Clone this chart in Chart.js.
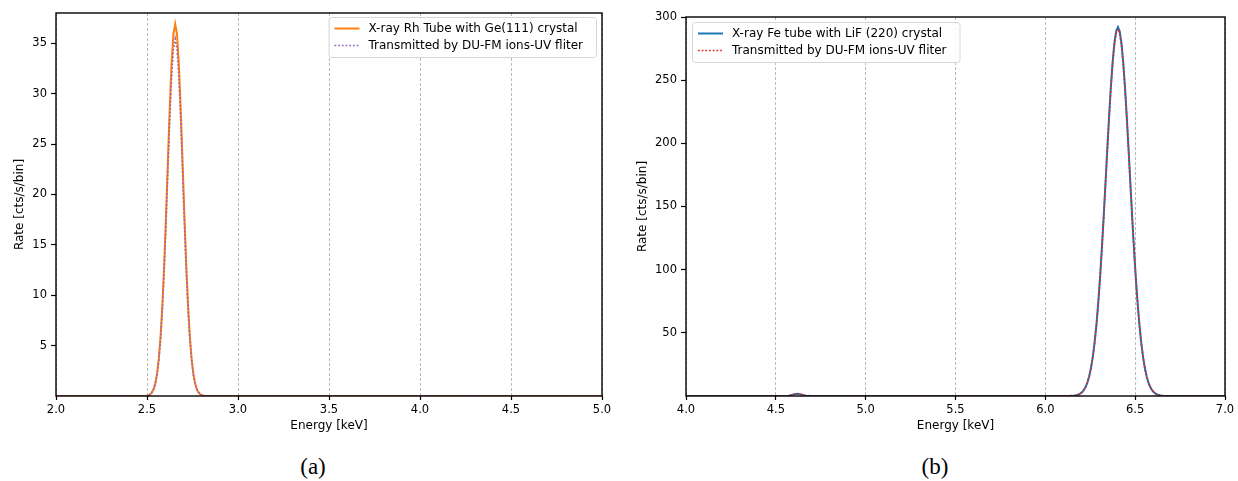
<!DOCTYPE html>
<html>
<head>
<meta charset="utf-8">
<script src="https://cdn.jsdelivr.net/npm/chart.js@4.4.1/dist/chart.umd.min.js"></script>
<style>
  html, body { margin: 0; padding: 0; background: #ffffff; }
  #wrap { position: relative; width: 1238px; height: 481px; overflow: hidden; }
  .panel { position: absolute; top: 0; }
  .caption {
    position: absolute; top: 452px; width: 60px; text-align: center;
    font-family: "Liberation Serif", "DejaVu Serif", serif; font-size: 23px; color: #000;
    line-height: 30px;
  }
</style>
</head>
<body>
<div id="wrap">
  <div class="panel" style="left:0px;"><canvas id="chartA" width="620" height="440"></canvas></div>
  <div class="panel" style="left:620px;"><canvas id="chartB" width="618" height="440"></canvas></div>
  <div class="caption" style="left:283px;">(a)</div>
  <div class="caption" style="left:905px;">(b)</div>
</div>
<script>
// ---- Panel (a): Rh tube with Ge(111) crystal ----
const energyA = [2.0,
  2.495, 2.505, 2.515, 2.525, 2.535, 2.545, 2.555, 2.565, 2.575, 2.585, 2.595,
  2.605, 2.615, 2.625, 2.635, 2.645, 2.655, 2.665, 2.675, 2.685, 2.695, 2.705,
  2.715, 2.725, 2.735, 2.745, 2.755, 2.765, 2.775, 2.785, 2.795, 2.805, 2.815,
  5.0];
const rhTubeRate = [0,
  0.02, 0.06, 0.14, 0.31, 0.62, 1.20, 2.17, 3.72, 6.02, 9.20, 13.30,
  18.17, 23.45, 28.6, 32.94, 35.87, 36.9, 35.87, 32.94, 28.6, 23.45, 18.17,
  13.30, 9.20, 6.02, 3.72, 2.17, 1.20, 0.62, 0.31, 0.14, 0.06, 0.02,
  0];
const rhTransmitted = [0,
  0.02, 0.06, 0.13, 0.30, 0.60, 1.15, 2.08, 3.57, 5.78, 8.83, 12.77,
  17.44, 22.51, 27.46, 31.62, 34.44, 35.42, 34.44, 31.62, 27.46, 22.51, 17.44,
  12.77, 8.83, 5.78, 3.57, 2.08, 1.15, 0.60, 0.30, 0.13, 0.06, 0.02,
  0];
const xTicksA = [2.0, 2.5, 3.0, 3.5, 4.0, 4.5, 5.0];
const yTicksA = [5, 10, 15, 20, 25, 30, 35];

// ---- Panel (b): Fe tube with LiF(220) crystal ----
const energyB = [4.0,
  4.56, 4.57, 4.58, 4.59, 4.60, 4.61, 4.62, 4.63, 4.64, 4.65, 4.66, 4.67, 4.68, 4.69,
  6.154, 6.164, 6.174, 6.184, 6.194, 6.204, 6.214, 6.224, 6.234, 6.244, 6.254,
  6.264, 6.274, 6.284, 6.294, 6.304, 6.314, 6.324, 6.334, 6.344, 6.354, 6.364,
  6.374, 6.384, 6.394, 6.404, 6.414, 6.424, 6.434, 6.444, 6.454, 6.464, 6.474,
  6.484, 6.494, 6.504, 6.514, 6.524, 6.534, 6.544, 6.554, 6.564, 6.574, 6.584,
  6.594, 6.604, 6.614, 6.624, 6.634, 6.644, 6.654,
  7.0];
const feTubeRate = [0,
  0.05, 0.2, 0.5, 0.9, 1.3, 1.6, 1.7, 1.6, 1.3, 0.9, 0.5, 0.25, 0.1, 0.03,
  0.22, 0.39, 0.67, 1.13, 1.85, 2.96, 4.63, 7.09, 10.6, 15.5, 22.1,
  30.8, 42.0, 55.9, 72.8, 92.7, 115.2, 140.1, 166.4, 193.2, 219.2, 243.0,
  263.3, 278.9, 288.7, 292.0, 288.7, 278.9, 263.3, 243.0, 219.2, 193.2, 166.4,
  140.1, 115.2, 92.7, 72.8, 55.9, 42.0, 30.8, 22.1, 15.5, 10.6, 7.09,
  4.63, 2.96, 1.85, 1.13, 0.67, 0.39, 0.22,
  0];
const feTransmitted = [0,
  0.05, 0.2, 0.5, 0.9, 1.3, 1.6, 1.7, 1.6, 1.3, 0.9, 0.5, 0.25, 0.1, 0.03,
  0.22, 0.39, 0.67, 1.12, 1.84, 2.95, 4.61, 7.05, 10.5, 15.4, 22.0,
  30.6, 41.8, 55.6, 72.4, 92.2, 114.6, 139.4, 165.6, 192.2, 218.1, 241.8,
  262.0, 277.5, 287.3, 290.5, 287.3, 277.5, 262.0, 241.8, 218.1, 192.2, 165.6,
  139.4, 114.6, 92.2, 72.4, 55.6, 41.8, 30.6, 22.0, 15.4, 10.5, 7.05,
  4.61, 2.95, 1.84, 1.12, 0.67, 0.39, 0.22,
  0];
const xTicksB = [4.0, 4.5, 5.0, 5.5, 6.0, 6.5, 7.0];
const yTicksB = [50, 100, 150, 200, 250, 300];

const FONT = '"DejaVu Sans", "Noto Sans", sans-serif';

function zip(xs, ys) { return xs.map((x, i) => ({ x: x, y: ys[i] })); }

// Full black frame around the plotting area
const framePlugin = {
  id: 'frame',
  afterDraw(chart) {
    const { ctx, chartArea: a } = chart;
    ctx.save();
    ctx.strokeStyle = '#000';
    ctx.lineWidth = 1.4;
    ctx.strokeRect(a.left, a.top, a.right - a.left, a.bottom - a.top);
    ctx.restore();
  }
};

// Boxed legend placed inside the plotting area
const boxLegendPlugin = {
  id: 'boxLegend',
  afterDatasetsDraw(chart, args, opts) {
    const { ctx, chartArea: a } = chart;
    const sets = chart.data.datasets;
    ctx.save();
    ctx.font = '12px ' + FONT;
    const textW = Math.max(...sets.map(d => ctx.measureText(d.label).width));
    const w = 40 + textW + 13;
    const h = 40;
    const x = opts.corner === 'right' ? a.right - 6 - w : a.left + 6;
    const y = a.top + opts.top;
    ctx.beginPath();
    ctx.roundRect(x + 0.5, y + 0.5, w, h, 3);
    ctx.fillStyle = 'rgba(255,255,255,0.85)';
    ctx.fill();
    ctx.strokeStyle = '#d6d6d6';
    ctx.lineWidth = 1;
    ctx.stroke();
    sets.forEach((d, i) => {
      const cy = y + 11.5 + i * 17;
      ctx.beginPath();
      ctx.setLineDash(d.borderDash || []);
      ctx.strokeStyle = d.borderColor;
      ctx.lineWidth = d.borderWidth;
      ctx.moveTo(x + 6, cy);
      ctx.lineTo(x + 31, cy);
      ctx.stroke();
      ctx.setLineDash([]);
      ctx.fillStyle = '#000';
      ctx.textBaseline = 'middle';
      ctx.textAlign = 'left';
      ctx.fillText(d.label, x + 40, cy);
    });
    ctx.restore();
  }
};

function makeChart(id, cfg) {
  return new Chart(document.getElementById(id), {
    type: 'line',
    data: {
      datasets: [
        {
          label: cfg.labels[0], data: zip(cfg.energy, cfg.series[0]),
          borderColor: cfg.colors[0], borderWidth: 2, pointRadius: 0, tension: 0,
          order: 2
        },
        {
          label: cfg.labels[1], data: zip(cfg.energy, cfg.series[1]),
          borderColor: cfg.colors[1], borderWidth: 1.7, borderDash: [1.7, 2.0],
          pointRadius: 0, tension: 0, order: 1
        }
      ]
    },
    options: {
      responsive: false,
      animation: false,
      devicePixelRatio: 1,
      events: [],
      layout: { padding: cfg.padding },
      plugins: {
        legend: { display: false },
        tooltip: { enabled: false },
        boxLegend: { corner: cfg.legendCorner, top: cfg.legendTop }
      },
      scales: {
        x: {
          type: 'linear', min: cfg.xMin, max: cfg.xMax,
          afterBuildTicks: s => { s.ticks = cfg.xTicks.map(v => ({ value: v })); },
          afterFit: s => { s.height = cfg.xAxisHeight; },
          ticks: {
            color: '#000', font: { family: FONT, size: 11.5 }, padding: 3,
            maxRotation: 0, autoSkip: false,
            callback: v => Number(v).toFixed(1)
          },
          grid: {
            color: '#b0b0b0', lineWidth: 0.9, drawOnChartArea: true, drawTicks: true,
            tickLength: 4, tickColor: '#000', tickWidth: 1.2, tickBorderDash: []
          },
          border: { display: false, dash: [3, 2] },
          title: {
            display: true, text: 'Energy [keV]', color: '#000',
            font: { family: FONT, size: 12 }, padding: { top: 0, bottom: cfg.xTitlePad }
          }
        },
        y: {
          type: 'linear', min: 0, max: cfg.yMax,
          afterBuildTicks: s => { s.ticks = cfg.yTicks.map(v => ({ value: v })); },
          afterFit: s => { s.width = cfg.yAxisWidth; },
          ticks: { color: '#000', font: { family: FONT, size: 11.5 }, padding: 4 },
          grid: {
            drawOnChartArea: false, drawTicks: true, tickLength: 5,
            tickColor: '#000', tickWidth: 1.2, color: '#000'
          },
          border: { display: false },
          title: {
            display: true, text: 'Rate [cts/s/bin]', color: '#000',
            font: { family: FONT, size: 12 }, padding: { top: cfg.yTitlePad, bottom: 0 }
          }
        }
      }
    },
    plugins: [boxLegendPlugin, framePlugin]
  });
}

makeChart('chartA', {
  energy: energyA,
  series: [rhTubeRate, rhTransmitted],
  labels: ['X-ray Rh Tube with Ge(111) crystal', 'Transmitted by DU-FM ions-UV fliter'],
  colors: ['#ff7f0e', '#9467bd'],
  xMin: 2.0, xMax: 5.0, yMax: 38,
  xTicks: xTicksA, yTicks: yTicksA,
  padding: { top: 13, right: 18, left: 0, bottom: 0 },
  xAxisHeight: 44, yAxisWidth: 56,
  xTitlePad: 7, yTitlePad: 13,
  legendCorner: 'right', legendTop: 4
});

makeChart('chartB', {
  energy: energyB,
  series: [feTubeRate, feTransmitted],
  labels: ['X-ray Fe tube with LiF (220) crystal', 'Transmitted by DU-FM ions-UV fliter'],
  colors: ['#1f77b4', '#e8231f'],
  xMin: 4.0, xMax: 7.0, yMax: 300,
  xTicks: xTicksB, yTicks: yTicksB,
  padding: { top: 17, right: 13, left: 0, bottom: 0 },
  xAxisHeight: 44, yAxisWidth: 66,
  xTitlePad: 7, yTitlePad: 16,
  legendCorner: 'left', legendTop: 5
});
</script>
</body>
</html>
